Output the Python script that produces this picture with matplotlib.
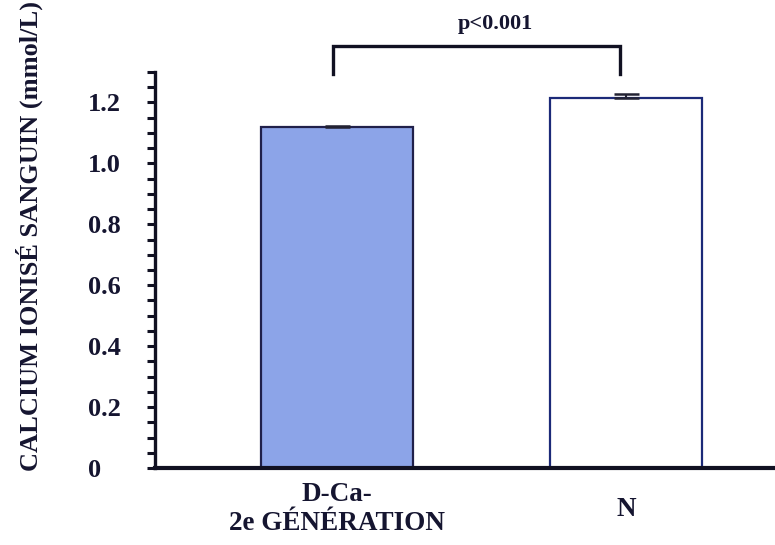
import matplotlib
matplotlib.use("Agg")
import matplotlib.pyplot as plt
import numpy as np

plt.rcParams['font.family'] = ['Liberation Serif', 'DejaVu Serif']
plt.rcParams['font.weight'] = 'bold'

# Data
groups = ["D-Ca-\n2e GÉNÉRATION", "N"]
means = [1.12, 1.215]
errors = [0.004, 0.012]
yticks = [0, 0.2, 0.4, 0.6, 0.8, 1.0, 1.2]
ytick_labels = ["0", "0.2", "0.4", "0.6", "0.8", "1.0", "1.2"]
pvalue_text = "p<0.001"

fill_colors = ["#8ca4e8", "#ffffff"]
edge_colors = ["#20204a", "#1c2a78"]
ink = "#151530"

fig = plt.figure(figsize=(7.75, 5.45), dpi=100)
ax = fig.add_axes([0.2, 0.1413, 0.8, 0.7266])

x = np.arange(len(groups))
ax.bar(x, means, width=0.525, color=fill_colors, edgecolor=edge_colors,
       linewidth=1.6, zorder=2)
ax.errorbar(x, means, yerr=[[0, 0], errors], fmt='none', ecolor="#222233",
            elinewidth=1.5, capsize=9, capthick=1.8, zorder=3)

ax.set_xlim(-0.63, 1.516)
ax.set_ylim(0, 1.3)

# Spines
for side in ("top", "right"):
    ax.spines[side].set_visible(False)
ax.spines["left"].set_linewidth(2.4)
ax.spines["bottom"].set_linewidth(3.0)
ax.spines["left"].set_color("#111122")
ax.spines["bottom"].set_color("#111122")

# Y ticks: labelled majors, dense minor ticks every 0.05
ax.set_yticks(yticks)
ax.set_yticklabels(ytick_labels, fontsize=19, fontweight='bold', color=ink)
ax.set_yticks(np.arange(0, 1.3001, 0.05), minor=True)
ax.tick_params(axis='y', which='both', direction='out', length=6, width=2.2,
               color="#111122")
ax.tick_params(axis='y', which='major', pad=42)
for lab in ax.get_yticklabels():
    lab.set_horizontalalignment('left')

# X labels, vertically centred under each bar
ax.set_xticks([])
for xi, g in zip(x, groups):
    ax.text(xi, -0.135, g, ha='center', va='center', fontsize=19.5,
            fontweight='bold', color=ink, linespacing=1.25)

ax.set_ylabel("CALCIUM IONISÉ SANGUIN (mmol/L)", fontsize=19,
              fontweight='bold', color=ink)
ax.yaxis.set_label_coords(-0.181, 0.585)

# Significance bracket
bx0, bx1 = -0.014, 0.979
ytop, ybot = 1.384, 1.292
ax.plot([bx0, bx0, bx1, bx1], [ybot, ytop, ytop, ybot], color="#111122",
        linewidth=2.4, clip_on=False, solid_joinstyle='miter')
ax.text(0.547, 1.457, pvalue_text, ha='center', va='center', fontsize=16,
        fontweight='bold', color=ink, clip_on=False)

fig.savefig("out.png", dpi=100)
